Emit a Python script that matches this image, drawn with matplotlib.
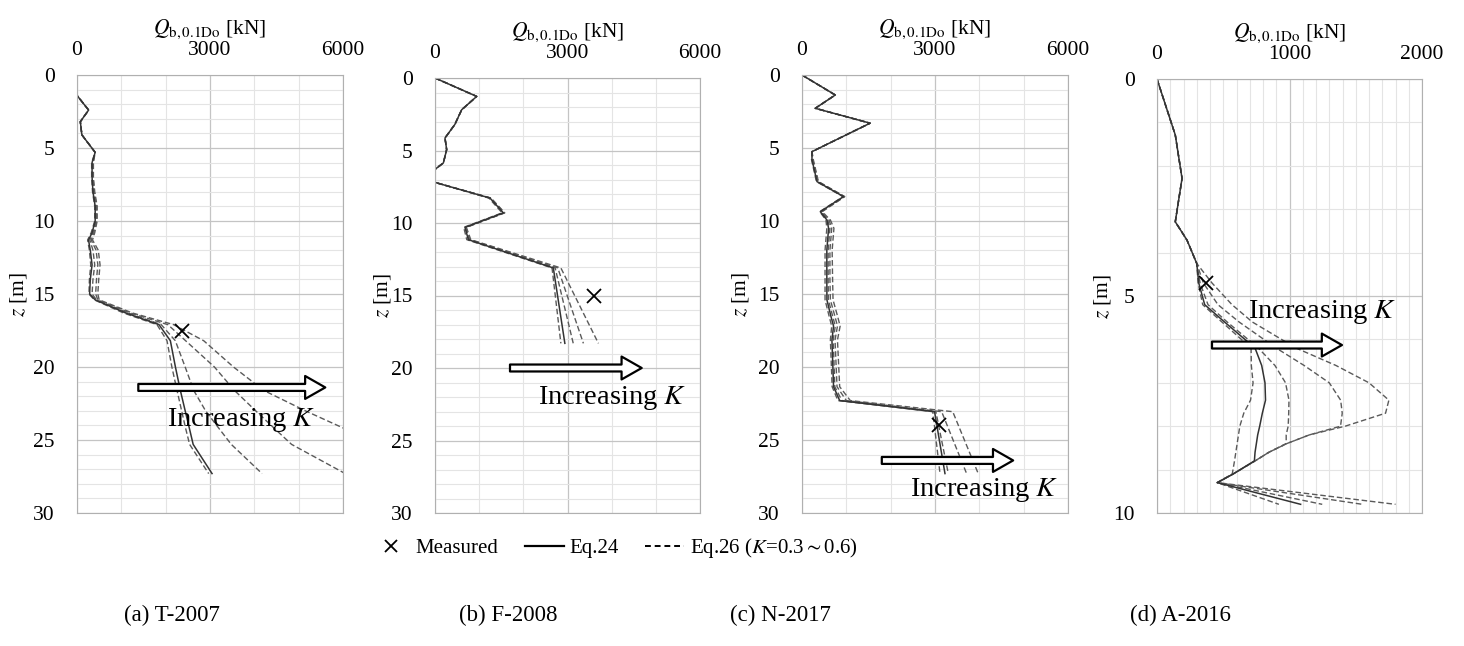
import matplotlib.pyplot as plt
from matplotlib.lines import Line2D

plt.rcParams['font.family'] = ['Liberation Serif', 'DejaVu Serif']
plt.rcParams['mathtext.fontset'] = 'stix'

# (a) T-2007
a_z = [0, 1.4, 2.4, 3.2, 4.1, 5.3, 6, 7, 8, 9, 10, 10.8, 11.3, 12, 13, 14, 15, 15.4,
       16.3, 17.1, 18.2, 20, 21.6, 23, 24.2, 25.3, 27.3]
a_eq24 = [0, 0, 262, 75, 110, 410, 340, 340, 360, 410, 410, 340, 260, 300, 340, 300, 285, 410,
          1100, 1850, 2106, 2220, 2331, 2440, 2535, 2620, 3046]
a_k03 = [0, 0, 262, 75, 110, 410, 330, 330, 350, 400, 400, 320, 240, 280, 310, 280, 270, 390,
         1050, 1805, 2030, 2140, 2256, 2360, 2450, 2540, 2970]
a_k04 = [0, 0, 262, 75, 110, 410, 350, 350, 375, 425, 425, 360, 290, 360, 400, 360, 340, 440,
         1150, 1900, 2218, 2440, 2632, 2900, 3200, 3480, 4174]
a_k05 = [0, 0, 262, 75, 110, 410, 360, 360, 390, 440, 440, 380, 320, 430, 470, 440, 420, 470,
         1200, 2050, 2450, 3100, 3550, 4030, 4450, 4840, 6050]
a_k06 = [0, 0, 262, 75, 110, 410, 370, 370, 400, 455, 455, 400, 350, 480, 520, 490, 470, 500,
         1250, 2180, 2858, 3530, 4210, 5150, 6020, 6800, 8200]
a_meas = (2370, 17.5)

# (b) F-2008
b_z = [0, 1.27, 2.19, 3.2, 4.14, 4.94, 5.86, 6.3, 7.2, 8.28, 9.3, 10.3, 11.15, 13.1, 18.3]
b_eq24 = [0, 944, 604, 450, 226, 264, 189, 0, 0, 1245, 1547, 679, 755, 2679, 2940]
b_k03 = [0, 944, 604, 450, 226, 264, 189, 0, 0, 1220, 1520, 650, 720, 2650, 2850]
b_k04 = [0, 944, 604, 450, 226, 264, 189, 0, 0, 1250, 1560, 690, 770, 2720, 3130]
b_k05 = [0, 944, 604, 450, 226, 264, 189, 0, 0, 1260, 1570, 700, 790, 2780, 3360]
b_k06 = [0, 944, 604, 450, 226, 264, 189, 0, 0, 1270, 1580, 710, 810, 2850, 3700]
b_meas = (3600, 15.0)

# (c) N-2017
c_z = [0, 1.37, 2.28, 3.3, 5.25, 5.8, 7.3, 8.33, 9.36, 9.93, 10.5, 12, 14, 15.4, 16.5, 17.2,
       18.15, 21.35, 22.3, 23.06, 27.3]
c_eq24 = [0, 750, 300, 1536, 225, 225, 338, 937, 413, 562, 600, 560, 560, 562, 650, 712,
          675, 712, 850, 2990, 3225]
c_k03 = [0, 750, 300, 1536, 225, 215, 325, 925, 400, 540, 560, 520, 520, 520, 610, 670,
         640, 680, 810, 2950, 3113]
c_k04 = [0, 750, 300, 1536, 225, 235, 350, 945, 425, 580, 630, 590, 590, 595, 690, 750,
         705, 740, 900, 3020, 3300]
c_k05 = [0, 750, 300, 1536, 225, 245, 360, 955, 440, 610, 670, 630, 630, 640, 740, 800,
         745, 790, 1000, 3150, 3713]
c_k06 = [0, 750, 300, 1536, 225, 255, 370, 965, 455, 640, 720, 680, 690, 700, 800, 860,
         800, 850, 1090, 3400, 3975]
c_meas = (3100, 24.0)

# (d) A-2016
d_z = [0, 1.29, 2.29, 3.29, 3.71, 4.25, 4.7, 5.2, 5.6, 6.2, 6.6, 7.0, 7.4, 7.7, 8.0, 8.2,
       8.4, 8.6, 8.8, 9.1, 9.3, 9.8]
d_eq24 = [0, 138, 189, 138, 226, 300, 315, 360, 510, 740, 790, 815, 819, 795, 775, 760,
          750, 740, 735, 575, 455, 1084]
d_k03 = [0, 138, 189, 138, 226, 300, 310, 345, 490, 710, 712, 725, 706, 655, 625, 615,
         605, 595, 585, 568, 455, 920]
d_k04 = [0, 138, 189, 138, 226, 300, 325, 385, 530, 765, 890, 970, 996, 994, 990, 975,
         975, 845, 740, 575, 455, 1247]
d_k05 = [0, 138, 189, 138, 226, 300, 350, 460, 620, 900, 1110, 1300, 1386, 1398, 1385, 1150,
         980, 845, 740, 575, 455, 1550]
d_k06 = [0, 138, 189, 138, 226, 300, 415, 566, 720, 1050, 1350, 1600, 1750, 1725, 1420, 1150,
         980, 845, 740, 575, 455, 1800]
d_meas = (367, 4.7)

panels = [
    dict(z=a_z, eq24=a_eq24, eq26=[a_k03, a_k04, a_k05, a_k06], meas=a_meas,
         xmax=6000, xmaj=3000, xmin=1000, zmax=30, rect=[77, 75, 343, 513],
         arrow=(1383, 5600, 21.4), text=(3700, 23.6), ylab=-0.18, cap=(172, '(a) T-2007')),
    dict(z=b_z, eq24=b_eq24, eq26=[b_k03, b_k04, b_k05, b_k06], meas=b_meas,
         xmax=6000, xmaj=3000, xmin=1000, zmax=30, rect=[435, 78, 700, 513],
         arrow=(1698, 4680, 20.0), text=(4020, 22.1), ylab=-0.16, cap=(508, '(b) F-2008')),
    dict(z=c_z, eq24=c_eq24, eq26=[c_k03, c_k04, c_k05, c_k06], meas=c_meas,
         xmax=6000, xmaj=3000, xmin=1000, zmax=30, rect=[802, 75, 1068, 513],
         arrow=(1800, 4762, 26.4), text=(4100, 28.4), ylab=-0.19, cap=(780, '(c) N-2017')),
    dict(z=d_z, eq24=d_eq24, eq26=[d_k03, d_k04, d_k05, d_k06], meas=d_meas,
         xmax=2000, xmaj=1000, xmin=100, zmax=10, rect=[1157, 79, 1422, 513],
         arrow=(415, 1396, 6.13), text=(1250, 5.37), ylab=-0.165, cap=(1180, '(d) A-2016')),
]

W, H = 1464, 646
fig = plt.figure(figsize=(W / 100, H / 100), dpi=100)

for p in panels:
    l, t, r, b = p['rect']
    ax = fig.add_axes([l / W, 1 - b / H, (r - l) / W, (b - t) / H])
    for q in p['eq26']:
        ax.plot(q, p['z'], color='#5a5a5a', lw=1.0, ls=(0, (4, 2)))
    ax.plot(p['eq24'], p['z'], color='#333333', lw=1.1)
    ax.plot(*p['meas'], marker='x', ms=10, mew=1.3, color='black', ls='none')

    x0, x1, za = p['arrow']
    ax.annotate('', xy=(x1, za), xytext=(x0, za),
                arrowprops=dict(arrowstyle='simple,head_length=1.45,head_width=1.65,tail_width=0.5',
                                fc='white', ec='black', lw=1.6, mutation_scale=10,
                                shrinkA=0, shrinkB=0))
    ax.text(p['text'][0], p['text'][1], 'Increasing $K$', fontsize=20.5,
            ha='center', va='center')

    ax.set_xlim(0, p['xmax'])
    ax.set_ylim(p['zmax'], 0)
    ax.xaxis.tick_top()
    ax.xaxis.set_label_position('top')
    ax.set_xticks(range(0, p['xmax'] + 1, p['xmaj']))
    ax.set_xticks(range(0, p['xmax'] + 1, p['xmin']), minor=True)
    ax.set_yticks(range(0, p['zmax'] + 1, 5))
    ax.set_yticks(range(0, p['zmax'] + 1, 1), minor=True)
    ax.set_axisbelow(True)
    ax.grid(which='major', color='#c4c4c4', lw=0.9)
    ax.grid(which='minor', color='#e4e4e4', lw=0.8)
    ax.tick_params(which='both', length=0, labelsize=15.5)
    ax.tick_params(axis='x', pad=11)
    ax.tick_params(axis='y', pad=16)
    for s in ax.spines.values():
        s.set_color('#b0b0b0')
    ax.set_xlabel(r'$Q_{\mathrm{b,0.1Do}}$ [kN]', fontsize=15.5, labelpad=5)
    ax.set_ylabel('$z$ [m]', fontsize=15.5)
    ax.yaxis.set_label_coords(p['ylab'], 0.5)

    fig.text(p['cap'][0] / W, 1 - 615 / H, p['cap'][1], fontsize=16.5, ha='center', va='center')

handles = [Line2D([], [], marker='x', ms=8, mew=1.3, color='black', ls='none'),
           Line2D([], [], color='black', lw=1.6),
           Line2D([], [], color='black', lw=1.4, ls=(0, (3, 2)))]
labels = ['Measured', 'Eq.24', r'Eq.26 ($K$=0.3$\sim$0.6)']
fig.legend(handles, labels, loc='center', bbox_to_anchor=(614 / W, 1 - 548 / H), ncol=3,
           frameon=False, fontsize=15, handlelength=1.9, handletextpad=0.25, columnspacing=1.25)

fig.savefig('out.png', dpi=100)
